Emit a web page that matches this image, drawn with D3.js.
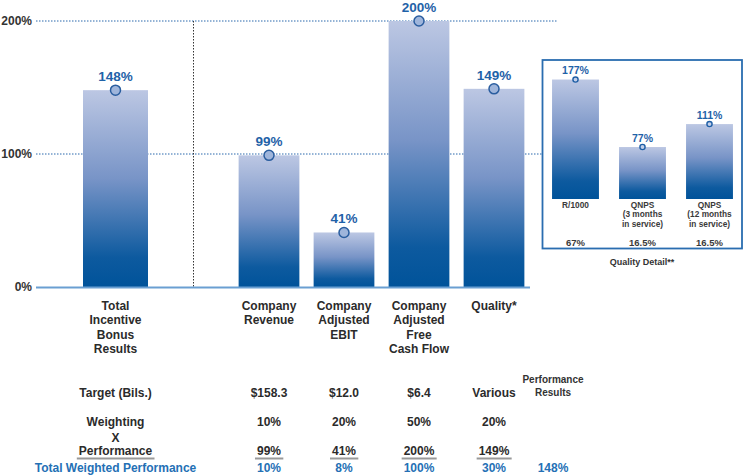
<!DOCTYPE html>
<html><head><meta charset="utf-8">
<script src="https://cdn.jsdelivr.net/npm/d3@7"></script>
<style>
html,body{margin:0;padding:0;background:#fff;}
svg{display:block;font-family:"Liberation Sans",Arial,sans-serif;}
</style></head>
<body><svg id="c" width="743" height="476"></svg>
<script>
// ---- data ----
const totalLabel = ["Total","Incentive","Bonus","Results"];
const totalValue = 148;
const categories = ["Company Revenue","Company Adjusted EBIT","Company Adjusted Free Cash Flow","Quality*"];
const categoryLines = [["Company","Revenue"],["Company","Adjusted","EBIT"],["Company","Adjusted","Free","Cash Flow"],["Quality*"]];
const values = [99, 41, 200, 149];
const yTicks = [0, 100, 200];
const targets = ["$158.3","$12.0","$6.4","Various"];
const weightings = ["10%","20%","50%","20%"];
const performance = ["99%","41%","200%","149%"];
const weighted = ["10%","8%","100%","30%"];
const totalWeighted = "148%";
const qualityCats = [["R/1000"],["QNPS","(3 months","in service)"],["QNPS","(12 months","in service)"]];
const qualityValues = [177, 77, 111];
const qualityWeights = ["67%","16.5%","16.5%"];

const svg = d3.select("#c");
const blue = "#1f62a8", dark = "#2b2b2b";

// gradient
const defs = svg.append("defs");
const g = defs.append("linearGradient").attr("id","barGrad").attr("x1",0).attr("y1",0).attr("x2",0).attr("y2",1);
g.append("stop").attr("offset","0%").attr("stop-color","#bcc7e3");
g.append("stop").attr("offset","45%").attr("stop-color","#7894c7");
g.append("stop").attr("offset","85%").attr("stop-color","#0d5a9f");
g.append("stop").attr("offset","100%").attr("stop-color","#00539a");

// scales
const y = d3.scaleLinear().domain([0,200]).range([287,21]);
const xTotal = d3.scaleBand().domain(["total"]).range([83,148]).padding(0);
const x = d3.scaleBand().domain(categories).range([231.5,531.5]).paddingInner(0.19).paddingOuter(0.095);

// y axis labels
const yAxis = d3.axisLeft(y).tickValues(yTicks).tickSize(0).tickPadding(0).tickFormat(d=>d+"%");
const ya = svg.append("g").attr("transform","translate(32,0)").call(yAxis);
ya.select(".domain").remove();
ya.selectAll("text").attr("font-size",12).attr("font-weight","bold").attr("fill","#333")
  .attr("font-family","Liberation Sans, Arial, sans-serif");

// gridlines
svg.append("line").attr("x1",36).attr("x2",558).attr("y1",y(200)).attr("y2",y(200))
  .attr("stroke","#2b69ad").attr("stroke-width",1).attr("stroke-dasharray","1.5,1.5");
svg.append("line").attr("x1",36).attr("x2",542).attr("y1",y(100)).attr("y2",y(100))
  .attr("stroke","#2b69ad").attr("stroke-width",1).attr("stroke-dasharray","1.5,1.5");
// divider
svg.append("line").attr("x1",193.5).attr("x2",193.5).attr("y1",y(200)).attr("y2",y(0))
  .attr("stroke","#333").attr("stroke-width",1).attr("stroke-dasharray","1.5,1.5");

// bars
function drawBar(x0, w, v){
  svg.append("rect").attr("x",x0).attr("width",w).attr("y",y(v)).attr("height",y(0)-y(v)).attr("fill","url(#barGrad)");
}
drawBar(xTotal("total"), xTotal.bandwidth(), totalValue);
categories.forEach((c,i)=>drawBar(x(c), x.bandwidth(), values[i]));

// baseline
svg.append("line").attr("x1",36).attr("x2",530).attr("y1",y(0)+0.5).attr("y2",y(0)+0.5)
  .attr("stroke","#6a9fd2").attr("stroke-width",2);

// markers and labels
function marker(cx, v){
  svg.append("circle").attr("cx",cx).attr("cy",y(v)).attr("r",5)
    .attr("fill","#9fb5db").attr("stroke","#2a5d9f").attr("stroke-width",1.5);
  svg.append("text").attr("x",cx).attr("y",y(v)-9).attr("text-anchor","middle")
    .attr("font-size",13.5).attr("font-weight","bold").attr("fill",blue).text(v+"%");
}
marker(xTotal("total")+xTotal.bandwidth()/2, totalValue);
categories.forEach((c,i)=>marker(x(c)+x.bandwidth()/2, values[i]));

// category labels
function catLabel(cx, lines){
  const t = svg.append("text").attr("text-anchor","middle").attr("font-size",12)
    .attr("font-weight","bold").attr("fill",dark);
  lines.forEach((l,j)=>t.append("tspan").attr("x",cx).attr("y",309.5+j*14.5).text(l));
}
catLabel(xTotal("total")+xTotal.bandwidth()/2, totalLabel);
categories.forEach((c,i)=>catLabel(x(c)+x.bandwidth()/2, categoryLines[i]));

// ---- table ----
const lx = xTotal("total")+xTotal.bandwidth()/2;
function txt(xp, yp, s, opts={}){
  return svg.append("text").attr("x",xp).attr("y",yp).attr("text-anchor","middle")
    .attr("font-size",opts.size||12).attr("font-weight","bold").attr("fill",opts.fill||dark).text(s);
}
txt(lx,397,"Target (Bils.)");
txt(lx,426,"Weighting");
txt(lx,442,"X");
const perfT = txt(lx,455,"Performance");
txt(lx,472,"Total Weighted Performance",{fill:"#2470b5"});
function underline(t){
  const b = t.node().getBBox();
  svg.append("line").attr("x1",b.x-2).attr("x2",b.x+b.width+2).attr("y1",458.5).attr("y2",458.5)
    .attr("stroke","#999").attr("stroke-width",2);
}
underline(perfT);
categories.forEach((c,i)=>{
  const cx = x(c)+x.bandwidth()/2;
  txt(cx,397,targets[i]);
  txt(cx,426,weightings[i]);
  underline(txt(cx,455,performance[i]));
  txt(cx,472,weighted[i],{fill:"#2470b5"});
});
txt(553,382.5,"Performance",{size:10,fill:"#333"});
txt(553,395.5,"Results",{size:10,fill:"#333"});
txt(553,472,totalWeighted,{fill:"#2470b5"});

// ---- inset: quality detail ----
const qy = d3.scaleLinear().domain([0,200]).range([199,64]);
const qx = d3.scaleBand().domain(qualityCats.map(d=>d.join(" "))).range([542,743]).paddingInner(0.3).paddingOuter(0.15);
qualityCats.forEach((c,i)=>{
  const k = c.join(" "), v = qualityValues[i], cx = qx(k)+qx.bandwidth()/2;
  svg.append("rect").attr("x",qx(k)).attr("width",qx.bandwidth()).attr("y",qy(v)).attr("height",qy(0)-qy(v)).attr("fill","url(#barGrad)");
  svg.append("circle").attr("cx",cx).attr("cy",qy(v)).attr("r",2.6).attr("fill","#c4d0ea").attr("stroke","#1f5fa6").attr("stroke-width",1.4);
  svg.append("text").attr("x",cx).attr("y",qy(v)-5.5).attr("text-anchor","middle").attr("font-size",10.5)
    .attr("font-weight","bold").attr("fill",blue).text(v+"%");
  const t = svg.append("text").attr("text-anchor","middle").attr("font-size",8.3).attr("font-weight","bold").attr("fill","#3a3a3a");
  c.forEach((l,j)=>t.append("tspan").attr("x",cx).attr("y",208+j*9.3).text(l));
  svg.append("text").attr("x",cx).attr("y",245.5).attr("text-anchor","middle").attr("font-size",9.5)
    .attr("font-weight","bold").attr("fill","#3a3a3a").text(qualityWeights[i]);
});
svg.append("rect").attr("x",542.5).attr("y",60).attr("width",199.5).attr("height",188.5)
  .attr("fill","none").attr("stroke","#2a6db0").attr("stroke-width",1.8);
svg.append("text").attr("x",642).attr("y",264.5).attr("text-anchor","middle").attr("font-size",9)
  .attr("font-weight","bold").attr("fill","#333").text("Quality Detail**");
</script></body></html>
